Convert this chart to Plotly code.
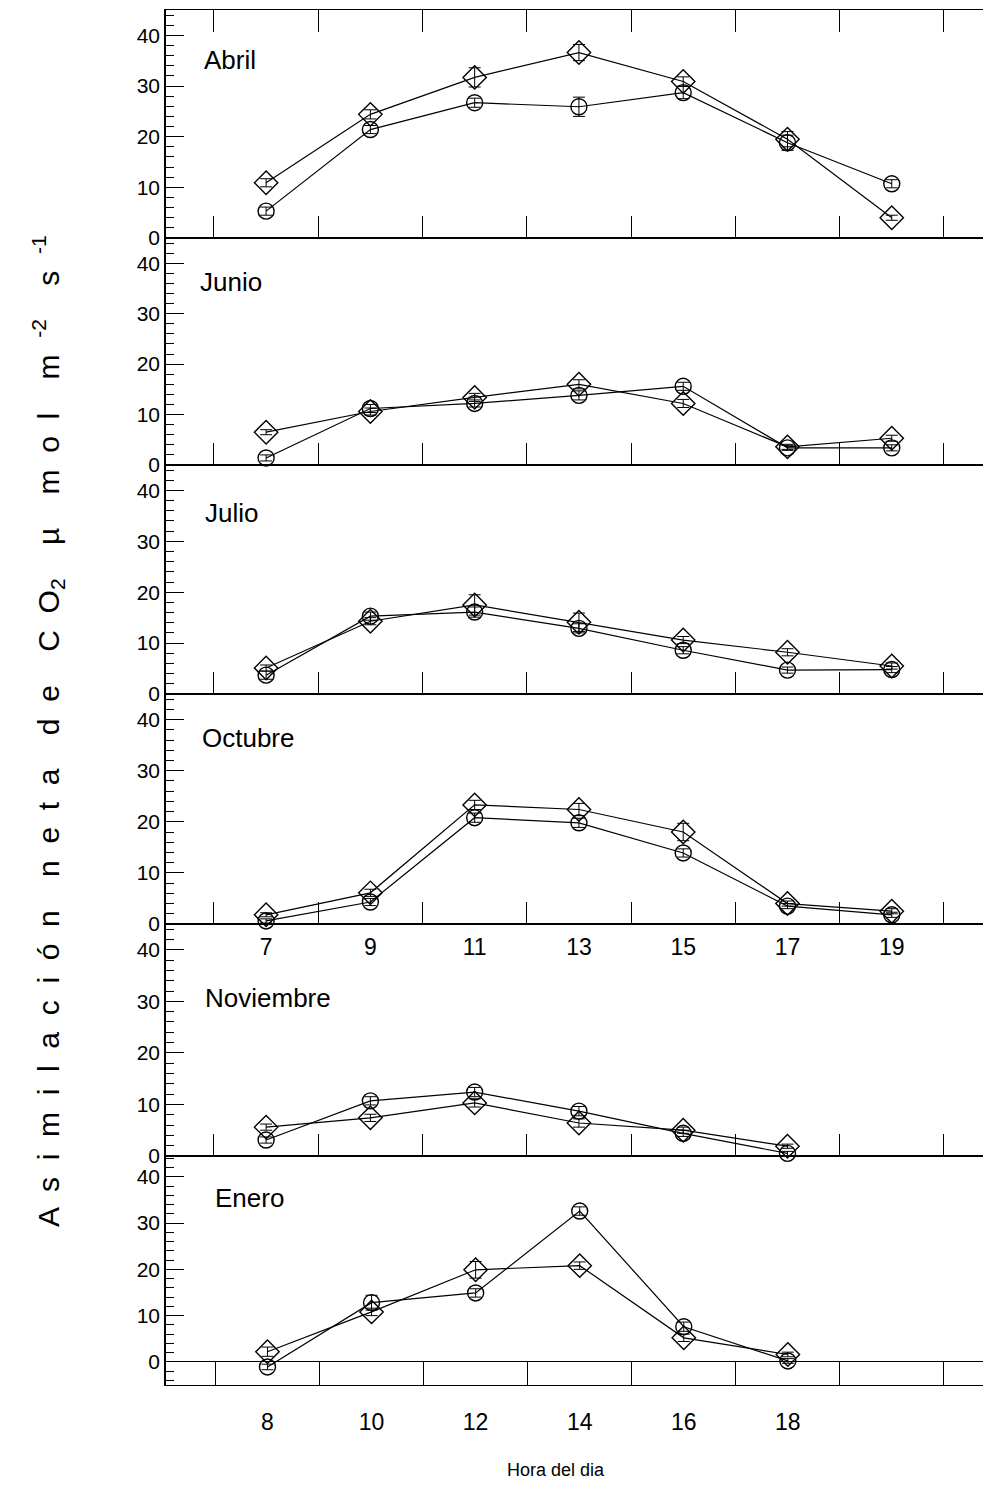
import plotly.graph_objects as go

W, H = 984, 1494

months = ["Abril", "Junio", "Julio", "Octubre", "Noviembre", "Enero"]
hours_odd = [7, 9, 11, 13, 15, 17, 19]
hours_nov = [7, 9, 11, 13, 15, 17]
hours_ene = [8, 10, 12, 14, 16, 18]

abril_circ = [5.3, 21.4, 26.7, 25.9, 28.7, 18.8, 10.7]
abril_circ_err = [0.8, 0.8, 0.9, 1.9, 1.2, 1.5, 0.8]
abril_diam = [10.9, 24.4, 31.7, 36.6, 30.9, 19.5, 4.0]
abril_diam_err = [0.8, 0.9, 1.9, 1.6, 0.9, 1.5, 0.5]

junio_circ = [1.4, 11.2, 12.2, 13.8, 15.6, 3.4, 3.4]
junio_circ_err = [0.6, 0.8, 0.7, 0.9, 0.8, 0.5, 0.6]
junio_diam = [6.5, 10.6, 13.4, 16.0, 12.2, 3.6, 5.3]
junio_diam_err = [0.5, 0.7, 0.8, 0.9, 0.8, 0.5, 0.6]

julio_circ = [3.7, 15.3, 16.1, 12.9, 8.6, 4.7, 4.8]
julio_circ_err = [0.8, 0.8, 1.0, 0.9, 0.7, 0.6, 0.6]
julio_diam = [5.1, 14.3, 17.5, 14.1, 10.6, 8.2, 5.5]
julio_diam_err = [0.6, 0.7, 2.0, 1.8, 0.7, 0.7, 0.6]

octubre_circ = [0.6, 4.3, 20.8, 19.8, 13.9, 3.5, 1.8]
octubre_circ_err = [0.4, 0.7, 0.9, 0.9, 0.8, 0.5, 0.5]
octubre_diam = [1.8, 6.1, 23.3, 22.4, 18.0, 4.0, 2.5]
octubre_diam_err = [0.4, 0.7, 0.9, 1.2, 1.7, 0.5, 0.5]

noviembre_circ = [3.1, 10.7, 12.4, 8.7, 4.4, 0.5]
noviembre_circ_err = [0.6, 0.8, 0.9, 0.9, 0.6, 0.4]
noviembre_diam = [5.6, 7.4, 10.3, 6.4, 5.0, 1.9]
noviembre_diam_err = [0.6, 0.7, 0.8, 0.8, 0.6, 0.4]

enero_circ = [-1.1, 12.8, 14.9, 32.6, 7.6, 0.2]
enero_circ_err = [0.6, 1.6, 0.9, 0.9, 1.0, 0.5]
enero_diam = [2.2, 10.8, 19.9, 20.8, 5.2, 1.6]
enero_diam_err = [1.0, 0.8, 1.8, 0.8, 0.8, 0.5]

y_ticks = [0, 10, 20, 30, 40]

panels = [
    (hours_odd, abril_circ, abril_circ_err, abril_diam, abril_diam_err),
    (hours_odd, junio_circ, junio_circ_err, junio_diam, junio_diam_err),
    (hours_odd, julio_circ, julio_circ_err, julio_diam, julio_diam_err),
    (hours_odd, octubre_circ, octubre_circ_err, octubre_diam, octubre_diam_err),
    (hours_nov, noviembre_circ, noviembre_circ_err, noviembre_diam, noviembre_diam_err),
    (hours_ene, enero_circ, enero_circ_err, enero_diam, enero_diam_err),
]

# pixel geometry of the panels (top, bottom)
bounds = [(10, 238), (238, 465), (465, 694), (694, 924), (924, 1156), (1156, 1385)]
yranges = [[0, 45], [0, 45], [0, 45], [0, 45], [0, 45], [-5, 44.5]]
xranges = [[5.08, 20.75]] * 5 + [[6.05, 21.75]]
label_pos = [(202, 60), (198, 282), (203, 513), (200, 738), (203, 998), (213, 1198)]

X0, X1 = 166, 983
FONT = "Liberation Sans, Arial, sans-serif"

fig = go.Figure()
layout = {}
annotations = []

for i, (hrs, c, ce, d, de) in enumerate(panels):
    n = i + 1
    xa = "x" if n == 1 else f"x{n}"
    ya = "y" if n == 1 else f"y{n}"
    fig.add_trace(go.Scatter(
        x=hrs, y=c, xaxis=xa, yaxis=ya, mode="lines+markers",
        line=dict(color="black", width=1.2),
        marker=dict(symbol="circle-open", size=16, color="black", line=dict(width=1.4)),
        error_y=dict(type="data", array=ce, color="black", thickness=1, width=6),
        showlegend=False, cliponaxis=False))
    fig.add_trace(go.Scatter(
        x=hrs, y=d, xaxis=xa, yaxis=ya, mode="lines+markers",
        line=dict(color="black", width=1.2),
        marker=dict(symbol="diamond-open", size=18, color="black", line=dict(width=1.4)),
        error_y=dict(type="data", array=de, color="black", thickness=1, width=6),
        showlegend=False, cliponaxis=False))

    top, bot = bounds[i]
    ydom = [1 - bot / H, 1 - top / H]
    xdom = [X0 / W, X1 / W]
    if n == 6:
        major = hrs
        minor_vals = [7, 9, 11, 13, 15, 17, 19, 21]
        minor_len = 23
        show_lab = True
        standoff = 16
    else:
        major = hours_odd
        minor_vals = [6, 8, 10, 12, 14, 16, 18, 20]
        minor_len = 22
        show_lab = (n == 4)
        standoff = 2
    xkey = "xaxis" if n == 1 else f"xaxis{n}"
    ykey = "yaxis" if n == 1 else f"yaxis{n}"
    layout[xkey] = dict(
        domain=xdom, anchor=ya, range=xranges[i], automargin=False,
        showline=True, linecolor="black", linewidth=1.1,
        mirror=("ticks" if n == 1 else True),
        tickmode="array", tickvals=major, ticktext=[str(h) for h in major],
        ticks="inside", ticklen=0, tickcolor="black",
        showticklabels=show_lab, ticklabelstandoff=standoff,
        tickfont=dict(family=FONT, size=23, color="black"),
        minor=dict(tickmode="array", tickvals=minor_vals, ticks="inside",
                   ticklen=minor_len, tickwidth=1.4, tickcolor="black", showgrid=False),
        showgrid=False, zeroline=False, fixedrange=True)
    layout[ykey] = dict(
        domain=ydom, anchor=xa, range=yranges[i], automargin=False,
        showline=True, linecolor="black", linewidth=1.6,
        tickmode="array", tickvals=y_ticks,
        ticks="inside", ticklen=18, tickwidth=1.2, tickcolor="black",
        tickfont=dict(family=FONT, size=21, color="black"),
        minor=dict(dtick=2, tick0=0, ticks="inside", ticklen=8, tickwidth=1, tickcolor="black", showgrid=False),
        showgrid=False, zeroline=(n == 6), zerolinecolor="black", zerolinewidth=1.4,
        fixedrange=True)
    # right side axis with shorter ticks
    rk = f"yaxis{n + 6}"
    layout[rk] = dict(
        overlaying=ya, side="right", anchor=xa, range=yranges[i], automargin=False,
        showline=True, linecolor="black", linewidth=1.4,
        tickmode="array", tickvals=y_ticks, showticklabels=False,
        ticks="inside", ticklen=10, tickwidth=1.2, tickcolor="black",
        minor=dict(dtick=2, tick0=0, ticks="inside", ticklen=3, tickwidth=1, tickcolor="black", showgrid=False),
        showgrid=False, zeroline=False, fixedrange=True)

    lx, ly = label_pos[i]
    annotations.append(dict(
        text=months[i], x=lx / W, y=1 - ly / H, xref="paper", yref="paper",
        xanchor="left", yanchor="middle", showarrow=False,
        font=dict(family=FONT, size=26, color="black")))

sp2 = "  "
gap = " " * 4
def spaced(word):
    return sp2.join(list(word))

ytitle = (spaced("Asimilación") + gap + spaced("neta") + gap + spaced("de") + gap
          + "C" + sp2 + "O<sub>2</sub>" + gap + "µ" + gap + spaced("mol") + gap
          + "m" + sp2 + "<sup>-2</sup>" + gap + "s" + sp2 + "<sup>-1</sup>")
annotations.append(dict(
    text=ytitle,
    x=48 / W, y=1 - 731 / H, xref="paper", yref="paper", textangle=-90,
    xanchor="center", yanchor="middle", showarrow=False,
    font=dict(family=FONT, size=30, color="black")))
annotations.append(dict(
    text="Hora del dia", x=556 / W, y=1 - 1470 / H, xref="paper", yref="paper",
    xanchor="center", yanchor="middle", showarrow=False,
    font=dict(family=FONT, size=18, color="black")))

fig.update_layout(
    width=W, height=H, margin=dict(l=0, r=0, t=0, b=0, autoexpand=False),
    paper_bgcolor="white", plot_bgcolor="white",
    annotations=annotations, **layout)

fig.write_html("out.html")
